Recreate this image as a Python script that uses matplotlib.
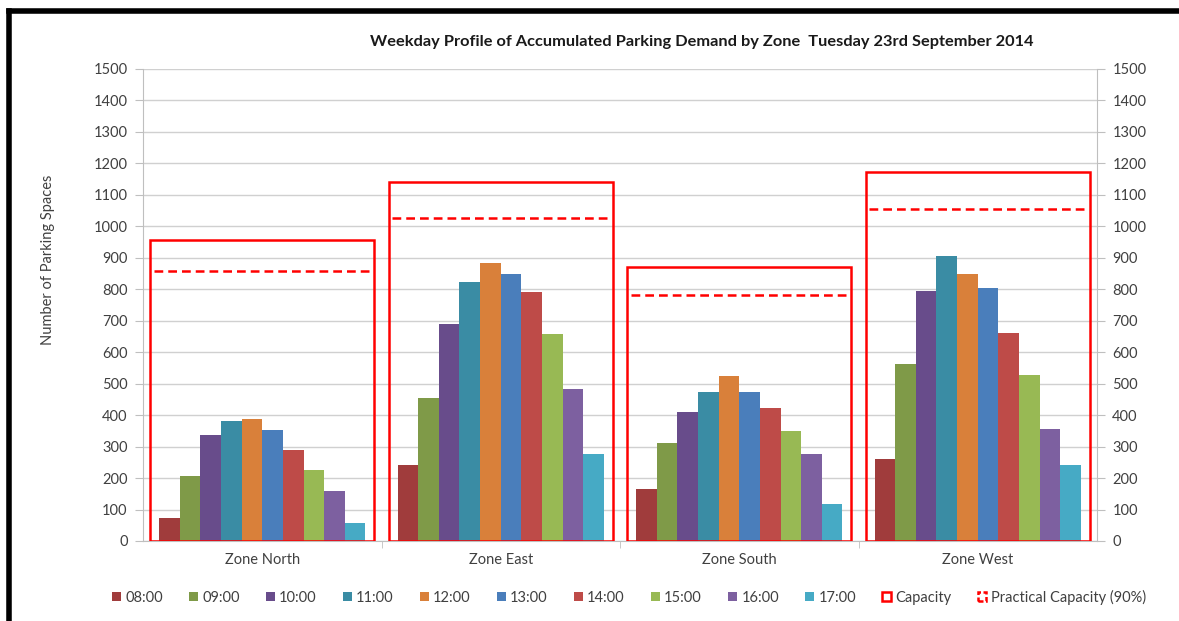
import matplotlib
matplotlib.use("Agg")
import matplotlib.pyplot as plt
import numpy as np
from matplotlib.lines import Line2D
from matplotlib.patches import Patch, Rectangle

plt.rcParams["font.family"] = ["Lato", "DejaVu Sans"]

zones = ["Zone North", "Zone East", "Zone South", "Zone West"]
hours = ["08:00", "09:00", "10:00", "11:00", "12:00", "13:00", "14:00", "15:00", "16:00", "17:00"]

north = [72, 206, 336, 381, 388, 352, 289, 225, 158, 58]
east = [240, 455, 689, 824, 885, 850, 791, 659, 483, 275]
south = [165, 312, 409, 473, 523, 473, 424, 349, 278, 116]
west = [262, 563, 794, 907, 850, 804, 662, 526, 355, 243]

capacity = [955, 1140, 870, 1173]
practical_share = 0.9

hour_colors = ["#A03C3C", "#7F9A48", "#684C8B", "#3A8CA4", "#D9803A",
               "#4A7EBB", "#BE4B48", "#98B954", "#7D60A0", "#46AAC5"]

demand = np.array([north, east, south, west])

W, H = 1179, 621
fig = plt.figure(figsize=(W / 100, H / 100), dpi=100)
ax = fig.add_axes([143 / W, 1 - 541 / H, (1097 - 143) / W, (541 - 69) / H])

bar_w = 0.0865
x = np.arange(len(zones))
for j, hour in enumerate(hours):
    ax.bar(x + (j - 4.5) * bar_w, demand[:, j], width=bar_w, color=hour_colors[j],
           label=hour, zorder=3)

for i, cap in enumerate(capacity):
    ax.add_patch(Rectangle((i - 0.47, 0), 0.94, cap, fill=False, edgecolor="#FF0000",
                           linewidth=1.8, zorder=4))
    ax.hlines(cap * practical_share, i - 0.455, i + 0.455, colors="#FF0000",
              linestyles=(0, (3.5, 2)), linewidth=1.8, zorder=4)

ax.set_xlim(-0.5, 3.5)
ax.set_ylim(0, 1500)
ax.set_yticks(range(0, 1501, 100))
ax.yaxis.grid(True, color="#D0D0D0", linewidth=1.0, zorder=0)
ax.tick_params(axis="y", which="both", labelsize=10.5, colors="#404040", length=6,
               color="#BFBFBF", left=True, right=True, labelleft=True, labelright=True,
               pad=5)
for s in ("left", "right", "bottom"):
    ax.spines[s].set_color("#BFBFBF")
ax.spines["top"].set_visible(False)

ax.set_xticks(x)
ax.set_xticklabels(zones, fontsize=10.5, color="#404040")
ax.tick_params(axis="x", length=0, pad=9)
ax.set_xticks(np.arange(0.5, 3.5, 1), minor=True)
ax.tick_params(axis="x", which="minor", length=5, color="#BFBFBF")

fig.text(48 / W, 1 - 260 / H, "Number of Parking Spaces", rotation=90, ha="center",
         va="center", fontsize=10.5, color="#404040")
fig.text(702 / W, 1 - 42 / H,
         "Weekday Profile of Accumulated Parking Demand by Zone  Tuesday 23rd September 2014",
         ha="center", va="center", fontsize=11.8, fontweight="bold", color="#1A1A1A")

handles = [Patch(facecolor=c, edgecolor="none", label=h) for c, h in zip(hour_colors, hours)]
handles.append(Patch(facecolor="white", edgecolor="#FF0000", linewidth=1.8, label="Capacity"))
handles.append(Patch(facecolor="white", edgecolor="#FF0000", linewidth=1.8,
                     linestyle=(0, (2, 1)), label="Practical Capacity (90%)"))
fig.legend(handles=handles, loc="center", bbox_to_anchor=(629 / W, 1 - 597 / H),
           ncol=12, frameon=False, fontsize=10.5, handlelength=0.6, handleheight=0.6,
           handletextpad=0.3, columnspacing=1.8, labelcolor="#404040")

# black frame around the picture
fig.add_artist(Line2D([9 / W, 1], [1 - 11 / H, 1 - 11 / H], color="black", linewidth=4,
                      transform=fig.transFigure))
fig.add_artist(Line2D([9 / W, 9 / W], [0, 1 - 11 / H], color="black", linewidth=4,
                      transform=fig.transFigure))

fig.savefig("out.png", dpi=100)
